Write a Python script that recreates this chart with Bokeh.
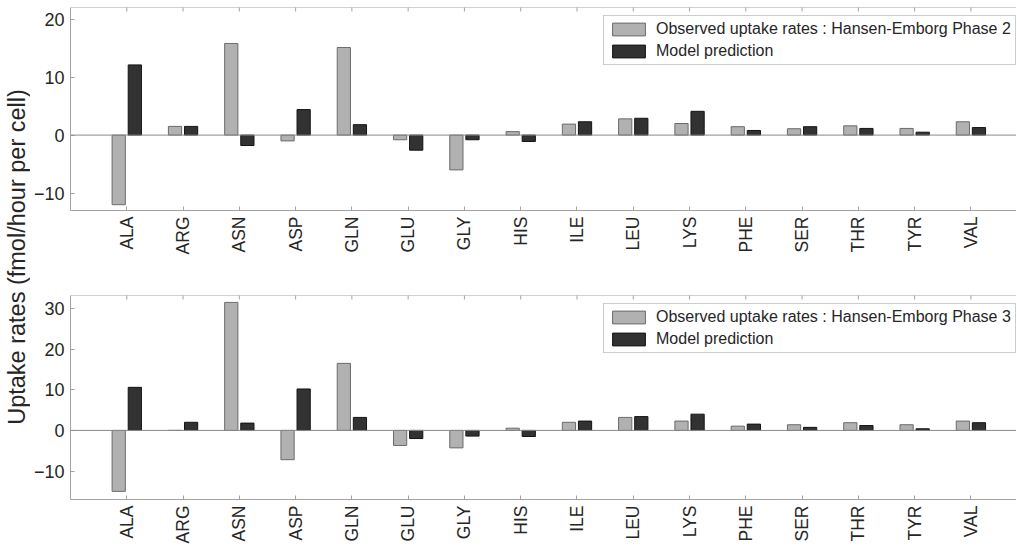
from math import pi
from bokeh.plotting import figure
from bokeh.layouts import row, column
from bokeh.models import (Range1d, FixedTicker, Label, Span, Legend,
                          LegendItem, ColumnDataSource)
from bokeh.transform import dodge
from bokeh.embed import file_html
from bokeh.resources import INLINE

# ---------------- data ----------------
amino_acids = ["ALA", "ARG", "ASN", "ASP", "GLN", "GLU", "GLY", "HIS",
               "ILE", "LEU", "LYS", "PHE", "SER", "THR", "TYR", "VAL"]

observed_phase2 = [-12.0, 1.5, 15.8, -1.0, 15.1, -0.8, -6.0, 0.6,
                   1.9, 2.8, 2.0, 1.45, 1.1, 1.6, 1.15, 2.3]
model_phase2 = [12.1, 1.5, -1.8, 4.4, 1.8, -2.6, -0.8, -1.1,
                2.3, 2.9, 4.1, 0.8, 1.45, 1.15, 0.5, 1.3]

observed_phase3 = [-15.0, 0.0, 31.5, -7.2, 16.5, -3.7, -4.3, 0.55,
                   2.0, 3.2, 2.3, 1.05, 1.4, 1.9, 1.4, 2.3]
model_phase3 = [10.6, 2.0, 1.8, 10.2, 3.2, -2.0, -1.4, -1.5,
                2.3, 3.4, 4.0, 1.55, 0.75, 1.2, 0.4, 1.9]

yticks_phase2 = [-10, 0, 10, 20]
yticks_phase3 = [-10, 0, 10, 20, 30]

legend_observed_2 = "Observed uptake rates : Hansen-Emborg Phase 2"
legend_observed_3 = "Observed uptake rates : Hansen-Emborg Phase 3"
legend_model = "Model prediction"
y_label = "Uptake rates (fmol/hour per cell)"

# ---------------- style ----------------
FONT = "Liberation Sans"
TEXT = "#262626"
AXIS = "#a3a3a3"
OBS_FILL, OBS_LINE = "#b1b1b1", "#6b6b6b"
MOD_FILL, MOD_LINE = "#323232", "#141414"

xpos = [i + 1 for i in range(len(amino_acids))]
X_END = 16.81


def make_panel(obs, mod, ymin, ymax, yticks, obs_label, height, b_top, b_bottom, leg_y):
    p = figure(width=986, height=height, x_range=Range1d(0, X_END),
               y_range=Range1d(ymin, ymax), output_backend="svg",
               toolbar_location=None, min_border_left=40, min_border_right=0,
               min_border_top=b_top, min_border_bottom=b_bottom)
    p.grid.visible = False
    p.outline_line_color = None
    p.background_fill_color = "white"

    src = ColumnDataSource(dict(x=xpos, obs=obs, mod=mod))
    r_obs = p.vbar(x=dodge("x", -0.143), top="obs", bottom=0, width=0.235,
                   source=src, fill_color=OBS_FILL, line_color=OBS_LINE, line_width=1)
    r_mod = p.vbar(x=dodge("x", 0.143), top="mod", bottom=0, width=0.235,
                   source=src, fill_color=MOD_FILL, line_color=MOD_LINE, line_width=1)
    p.add_layout(Span(location=0, dimension="width", line_color="#8a8a8a", line_width=1))

    # box top edge with inward ticks (MATLAB style)
    p.add_layout(Span(location=ymax, dimension="width", line_color=AXIS, line_width=1))
    p.scatter(x=xpos, y=[ymax] * len(xpos), marker="dash", angle=pi / 2, size=8,
              line_color=AXIS, line_width=1)

    xa = p.xaxis[0]
    xa.ticker = FixedTicker(ticks=xpos)
    xa.major_label_overrides = {x: n for x, n in zip(xpos, amino_acids)}
    xa.major_tick_in = 4
    xa.major_tick_out = 0
    xa.minor_tick_line_color = None
    xa.axis_line_color = AXIS
    xa.major_tick_line_color = AXIS
    xa.major_label_orientation = pi / 2
    xa.major_label_text_font = FONT
    xa.major_label_text_font_size = "17.5px"
    xa.major_label_text_color = TEXT
    xa.major_label_standoff = 6

    ya = p.yaxis[0]
    ya.ticker = FixedTicker(ticks=yticks)
    ya.major_tick_in = 4
    ya.major_tick_out = 0
    ya.minor_tick_line_color = None
    ya.axis_line_color = AXIS
    ya.major_tick_line_color = AXIS
    ya.major_label_text_font = FONT
    ya.major_label_text_font_size = "18px"
    ya.major_label_text_color = TEXT
    ya.major_label_standoff = 6

    legend = Legend(items=[LegendItem(label=obs_label, renderers=[r_obs]),
                           LegendItem(label=legend_model, renderers=[r_mod])],
                    location=(533, leg_y), margin=0, padding=4, spacing=4,
                    glyph_width=41, glyph_height=16, label_height=16,
                    label_standoff=7, label_text_font=FONT,
                    label_text_font_size="16px", label_text_color=TEXT,
                    border_line_color="#9a9a9a", border_line_width=1,
                    background_fill_color="white", background_fill_alpha=1)
    p.add_layout(legend)
    return p


p1 = make_panel(observed_phase2, model_phase2, -13, 22, yticks_phase2,
                legend_observed_2, 290, 7, 80, 145)
p2 = make_panel(observed_phase3, model_phase3, -17, 33.2, yticks_phase3,
                legend_observed_3, 258, 5, 49, 146)

lbl = figure(width=30, height=548, x_range=Range1d(0, 30), y_range=Range1d(0, 548),
             output_backend="svg", toolbar_location=None, min_border=0)
lbl.axis.visible = False
lbl.grid.visible = False
lbl.outline_line_color = None
lbl.add_layout(Label(x=16, y=291.5, text=y_label, angle=pi / 2,
                     text_align="center", text_baseline="middle",
                     text_font=FONT, text_font_size="23.5px", text_color=TEXT))

layout = row(lbl, column(p1, p2))

open("out.html", "w").write(file_html(layout, INLINE))
